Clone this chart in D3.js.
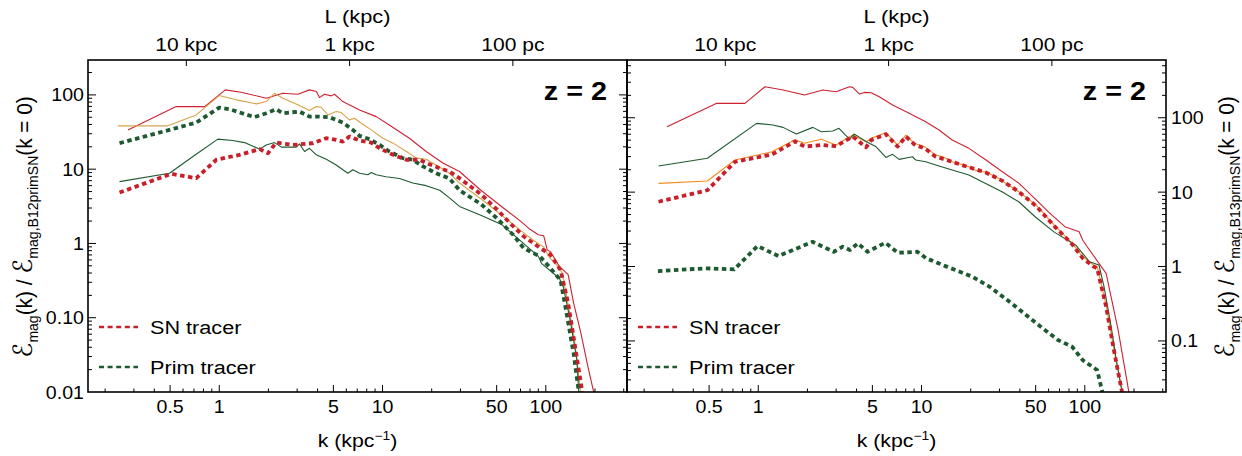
<!DOCTYPE html>
<html><head><meta charset="utf-8">
<script src="https://cdn.jsdelivr.net/npm/d3@7"></script>
<style>
html,body{margin:0;padding:0;background:#fff;}
text{font-family:"Liberation Sans",Arial,Helvetica,sans-serif;fill:#000;}
</style></head><body>
<svg id="chart" width="1242" height="456"></svg>
<script>
// ---------------- DATA ----------------
// [k (kpc^-1), E_mag ratio]
const leftRedThin = [[0.276,33.8],[0.545,69.6],[0.813,69.6],[1.09,116.8],[1.36,108.7],[1.94,90.2],[2.45,105.4],[3.03,102],[3.57,116.8],[3.93,110.8],[4.11,92],[4.41,102],[4.85,97],[5.08,102],[5.71,81.3],[7.23,62.8],[9.15,51],[11.0,39.4],[14.6,26.1],[18.5,17.3],[23.4,12.1],[29.6,9.3],[40,5.2],[55,3.0],[70,2.0],[80,1.55],[90,1.31],[97,1.27],[102,0.82],[107,0.77],[121,0.49],[137,0.38],[148,0.157],[164,0.062],[181,0.022],[196,0.0102],[200,0.008]];
const leftGoldThin = [[0.239,38.3],[0.484,38.3],[0.723,53.8],[1.00,97.9],[1.27,85.8],[1.69,75.7],[1.94,81.3],[2.18,105],[2.45,90.2],[3.10,71.8],[3.57,61.5],[3.93,69.6],[4.21,68.2],[4.62,53.8],[5.20,59.7],[5.58,57.8],[6.27,46.1],[6.73,48.5],[7.41,41.6],[8.53,33.8],[10.05,26.1],[11.6,22.4],[14.0,17.3],[16.1,14.1],[18.5,13.6],[21.3,11.4],[25.7,8.8],[29.6,6.5],[40,4.0],[55,2.3],[70,1.5],[85,1.08],[97,0.9],[105,0.65],[118,0.5],[126,0.4],[138,0.14],[150,0.05],[163,0.01],[166,0.008]];
const leftGreenThin = [[0.245,6.8],[0.496,8.8],[0.690,14.8],[0.98,25.4],[1.21,24.3],[1.43,22.8],[1.77,18.6],[1.94,21.2],[2.18,22.8],[2.40,19.8],[2.96,19.8],[3.10,21.9],[3.33,17.3],[3.57,19.1],[3.93,15.6],[4.52,13.6],[5.20,11.4],[6.13,8.8],[6.58,9.8],[7.23,8.8],[8.13,8.4],[8.53,9.0],[9.15,8.4],[10.5,7.9],[12.7,7.5],[15.3,6.5],[18.5,6.0],[22.4,5.2],[25.7,4.1],[29.6,3.15],[40,2.4],[54,1.78],[73,1.0],[90,0.67],[94,0.54],[121,0.34],[128,0.26],[141,0.093],[155,0.027],[159,0.0102],[161,0.008]];
const leftPrim = [[0.245,22.4],[0.496,33.8],[0.723,42.4],[1.00,67.5],[1.16,64.1],[1.64,50.1],[1.94,56.7],[2.23,64.1],[2.45,56.7],[3.10,59.7],[3.57,51],[4.11,51],[4.72,50.1],[5.71,42.4],[6.58,33.8],[7.23,28.1],[8.32,25.4],[9.60,21.2],[11.0,17.3],[13.3,14.1],[15.3,13.4],[17.7,10.9],[21.3,8.8],[25.7,7.5],[29.6,5.2],[40,3.4],[50,2.2],[63,1.31],[73.3,0.86],[92,0.67],[109,0.44],[123,0.32],[134,0.115],[148,0.033],[159,0.0102],[161,0.008]];
const leftSN = [[0.245,4.84],[0.508,8.66],[0.723,7.56],[0.96,13.4],[1.33,15.6],[1.77,18.6],[1.99,16.4],[2.23,22.8],[2.82,21.2],[3.75,22.4],[4.52,26.1],[5.20,24.8],[5.71,23.5],[6.27,27.5],[7.23,24.3],[8.53,22.8],[9.60,19.1],[11.6,15.6],[14.0,13.4],[16.9,13.4],[18.5,12.1],[22.4,10.3],[25.7,9.3],[29.6,7.56],[40,4.6],[50,2.9],[60,1.9],[73.3,1.24],[89.7,0.91],[107,0.70],[123,0.44],[137,0.157],[151,0.041],[167,0.0102],[170,0.008]];

const rightRedThin = [[0.276,75.7],[0.557,156],[0.829,156],[1.10,261],[1.42,236],[1.92,202],[2.49,236],[3.00,224],[3.62,261],[3.79,256],[4.17,208],[4.47,219],[4.91,217],[5.51,191],[6.65,148],[8.40,115],[10.6,88.5],[12.8,68.4],[15.4,50.2],[19.5,38.8],[24.7,27.2],[31.1,18.9],[39.4,13.2],[50,8.0],[60,5.4],[75.5,3.43],[92.3,2.94],[97,2.27],[105,1.76],[135,0.81],[160,0.14],[186,0.0207],[195,0.01]];
const rightOrangeThin = [[0.245,13.1],[0.488,14.1],[0.720,27],[1.21,34.9],[1.68,50.6],[1.92,45.3],[2.43,51.3],[3.00,43],[3.79,58.5],[4.57,47.5],[4.91,52.8],[6.05,63],[7.13,43],[8.02,58.5],[9.02,45.3],[10.6,40],[12.2,31.5],[13.5,29.9],[15.4,25.6],[19.5,21.9],[22.4,18.8],[24.7,18.8],[29.7,15.3],[34.2,12.4],[39.4,10.1],[50,6.8],[65,3.6],[83.6,2.05],[97,1.36],[113,1.05],[119,1.0],[135,0.3],[152,0.07],[170,0.0206],[175,0.012]];
const rightGreenThin = [[0.245,22.4],[0.488,28.5],[0.977,84.1],[1.23,79.8],[1.42,74.2],[1.71,60.4],[2.16,74.2],[2.43,64.9],[2.86,66.3],[3.12,72],[3.62,51.7],[3.86,60.4],[4.27,52.8],[4.6,47.5],[5.27,40.7],[6.05,29.3],[6.65,32.2],[7.29,27.6],[8.2,29],[8.8,29.9],[9.23,27],[10.6,25.6],[12.8,22.4],[15.4,19.8],[19.5,17],[24.7,13.1],[31.1,10.1],[39.4,7.43],[50,4.6],[65,2.9],[87.7,1.95],[107,1.16],[122,1.05],[131,0.54],[145,0.155],[156,0.055],[169,0.0206],[172,0.015]];
const rightPrim = [[0.243,0.87],[0.477,0.946],[0.713,0.916],[0.99,1.89],[1.33,1.38],[2.15,2.15],[2.90,1.58],[3.29,1.85],[3.64,1.67],[4.08,2.05],[4.67,1.58],[6.01,2.09],[7.16,1.53],[9.42,1.58],[10.7,1.29],[14.4,0.99],[20.5,0.73],[26.3,0.53],[35.6,0.32],[50.6,0.172],[68.4,0.103],[83.6,0.0836],[97.1,0.0553],[119,0.0406],[128,0.0207],[130,0.015]];
const rightSN = [[0.245,7.43],[0.488,10.6],[0.720,25.6],[1.21,32],[1.68,48],[1.92,41],[2.43,43],[3.00,41.5],[3.79,56],[4.57,40],[4.91,50],[6.05,60],[7.13,41],[8.02,56],[9.02,44],[10.6,38],[12.2,30],[15.4,25.6],[19.5,21.6],[24.7,18.4],[31.1,14.3],[39.4,10.1],[50,6.6],[65,3.5],[83.6,2.0],[97,1.3],[113,1.0],[119,0.95],[135,0.29],[152,0.068],[169,0.0206],[172,0.015]];

const kTickLabels = [0.5, 1, 5, 10, 50, 100];
const topTickL = [10, 1, 0.1];              // L in kpc, k = 2*pi/L
const topTickText = ["10 kpc", "1 kpc", "100 pc"];
const leftYTicks = [100, 10, 1, 0.1, 0.01];
const leftYText = ["100", "10", "1", "0.10", "0.01"];
const rightYTicks = [100, 10, 1, 0.1];
const rightYText = ["100", "10", "1", "0.1"];
const legendNames = ["SN tracer", "Prim tracer"];
const panelLabel = "z = 2";

// ---------------- STYLE / LAYOUT ----------------
const C = {red:"#cc2230", gold:"#d6a24a", orange:"#f7891e", green:"#1e5a30", sn:"#c8202a"};
const T = 60, B = 392;
const svg = d3.select("#chart");

const panels = [
  {x0:88, x1:627, yDom:[0.01,295], yTicks:leftYTicks, yText:leftYText, ySide:"left", sub:"mag,B12primSN",
   series:[{d:leftRedThin,c:C.red,t:"thin"},{d:leftGoldThin,c:C.gold,t:"thin"},{d:leftGreenThin,c:C.green,t:"thin"},
           {d:leftPrim,c:C.green,t:"dot"},{d:leftSN,c:C.sn,t:"dot"}]},
  {x0:627, x1:1166, yDom:[0.0206,597], yTicks:rightYTicks, yText:rightYText, ySide:"right", sub:"mag,B13primSN",
   series:[{d:rightRedThin,c:C.red,t:"thin"},{d:rightOrangeThin,c:C.orange,t:"thin"},{d:rightGreenThin,c:C.green,t:"thin"},
           {d:rightPrim,c:C.green,t:"dot"},{d:rightSN,c:C.sn,t:"dot"}]}
];

function stext(x, y, str, size, anchor, weight, stretch) {
  const g = svg.append("g").attr("transform", `translate(${x},${y}) scale(${stretch||1.15},1)`);
  return g.append("text").attr("text-anchor", anchor||"middle")
    .style("font-size", size+"px").style("font-weight", weight||"normal").text(str);
}

function minorTicks(dom) {
  const out = [];
  const lo = Math.floor(Math.log10(dom[0])), hi = Math.ceil(Math.log10(dom[1]));
  for (let e = lo; e <= hi; e++) for (let m = 1; m <= 9; m++) {
    const v = m * Math.pow(10, e);
    if (v >= dom[0]*1.0001 && v <= dom[1]*0.9999) out.push(v);
  }
  return out;
}

panels.forEach((p, pi) => {
  const x = d3.scaleLog().domain([2*Math.PI/40, 2*Math.PI/0.02]).range([p.x0, p.x1]);
  const y = d3.scaleLog().domain(p.yDom).range([B, T]);
  const clipId = "clip"+pi;
  svg.append("clipPath").attr("id", clipId).append("rect")
    .attr("x", p.x0).attr("y", T).attr("width", p.x1-p.x0).attr("height", B-T);

  const line = d3.line().x(d => x(d[0])).y(d => y(d[1]));
  const gl = svg.append("g").attr("clip-path", `url(#${clipId})`);
  p.series.forEach(s => {
    gl.append("path").datum(s.d).attr("d", line).attr("fill","none")
      .attr("stroke", s.c)
      .attr("stroke-width", s.t==="thin" ? 1.1 : 3.8)
      .attr("stroke-dasharray", s.t==="thin" ? null : "4.5,3.5")
      .attr("stroke-linejoin","round");
  });

  // ticks (all inward)
  const kMinor = minorTicks(x.domain());
  const isMajorK = v => kTickLabels.some(t => Math.abs(t - v)/t < 1e-6);
  const yMinor = minorTicks(y.domain());
  const isDecade = v => Math.abs(Math.log10(v) - Math.round(Math.log10(v))) < 1e-6;
  const tk = svg.append("g").attr("stroke","#000").attr("stroke-width",1);
  kMinor.forEach(v => {
    const L = isMajorK(v) ? 7 : 3.5;
    tk.append("line").attr("x1", x(v)).attr("x2", x(v)).attr("y1", B).attr("y2", B-L);
  });
  topTickL.forEach(L => {
    const k = 2*Math.PI/L;
    tk.append("line").attr("x1", x(k)).attr("x2", x(k)).attr("y1", T).attr("y2", T+6);
  });
  yMinor.forEach(v => {
    const L = isDecade(v) ? 8 : 4;
    tk.append("line").attr("x1", p.x0).attr("x2", p.x0+L).attr("y1", y(v)).attr("y2", y(v));
    tk.append("line").attr("x1", p.x1).attr("x2", p.x1-L).attr("y1", y(v)).attr("y2", y(v));
  });

  // frame
  svg.append("rect").attr("x", p.x0).attr("y", T).attr("width", p.x1-p.x0).attr("height", B-T)
    .attr("fill","none").attr("stroke","#000").attr("stroke-width",1.6);

  // bottom labels
  kTickLabels.forEach(v => stext(x(v), 413, String(v), 17.5, "middle", "normal", 1.12));
  const xt = stext((p.x0+p.x1)/2, 447, "k (kpc", 18.5, "middle", "normal", 1.15);
  xt.append("tspan").attr("dy",-7).style("font-size","12px").text("\u22121");
  xt.append("tspan").attr("dy",7).text(")");
  // top labels
  topTickL.forEach((L, i) => stext(x(2*Math.PI/L), 51, topTickText[i], 18, "middle", "normal", 1.17));
  stext((p.x0+p.x1)/2, 23, "L (kpc)", 18.5, "middle", "normal", 1.18);

  // y tick labels
  p.yTicks.forEach((v, i) => {
    if (p.ySide === "left") stext(p.x0-4, y(v)+6.5, p.yText[i], 17.5, "end", "normal", 1.12);
    else stext(p.x1+5, y(v)+6.5, p.yText[i], 17.5, "start", "normal", 1.12);
  });

  // y title (rotated)
  const tx = p.ySide === "left" ? 32 : 1234;
  const g = svg.append("g").attr("transform", `translate(${tx},227) rotate(-90) scale(1.04,1.1)`);
  const t = g.append("text").attr("text-anchor","middle").style("font-size","20px");
  t.append("tspan").style("font-family","DejaVu Sans").style("font-size","24px").text("\u2130");
  t.append("tspan").attr("dy",5).style("font-size","13.5px").text("mag");
  t.append("tspan").attr("dy",-5).text("(k) / ");
  t.append("tspan").style("font-family","DejaVu Sans").style("font-size","24px").text("\u2130");
  t.append("tspan").attr("dy",5).style("font-size","13.5px").text(p.sub);
  t.append("tspan").attr("dy",-5).text("(k = 0)");

  // panel label
  stext(p.x1-20, 100, panelLabel, 25, "end", "bold", 1.15);

  // legend
  const lx = p.x0 + 11;
  [[C.sn, 327], [C.green, 367]].forEach((ld, i) => {
    svg.append("line").attr("x1", lx).attr("x2", lx+39).attr("y1", ld[1]).attr("y2", ld[1])
      .attr("stroke", ld[0]).attr("stroke-width", 2.6).attr("stroke-dasharray","5,3.6");
    stext(lx+51, ld[1]+7, legendNames[i], 19, "start", "normal", 1.14);
  });
});
</script>
</body></html>
